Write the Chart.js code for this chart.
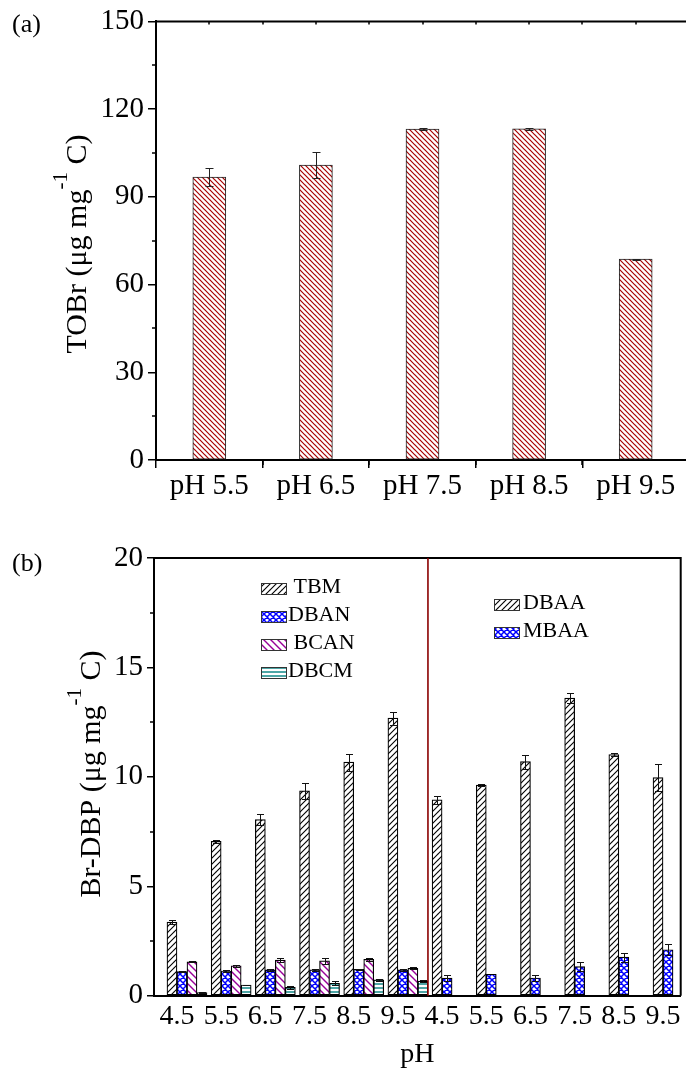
<!DOCTYPE html>
<html><head><meta charset="utf-8">
<script src="https://cdn.jsdelivr.net/npm/chart.js@4.4.1/dist/chart.umd.min.js"></script>
<style>
html,body{margin:0;padding:0;background:#fff;overflow:hidden;width:686px;height:1074px}
#wrap{position:relative;width:686px;height:1074px;overflow:hidden;background:#fff}
#ca{position:absolute;left:0;top:0}
#cb{position:absolute;left:0;top:530px}
</style></head><body>
<div id="wrap"><canvas id="ca" width="700" height="530"></canvas><canvas id="cb" width="686" height="544"></canvas></div>
<script>
// ---------- Panel (a) data ----------
const phLabelsA = ['pH 5.5', 'pH 6.5', 'pH 7.5', 'pH 8.5', 'pH 9.5'];
const tobr = [96.8, 100.9, 113.2, 113.3, 68.7];
const tobrErr = [3.1, 4.3, 0.3, 0.3, 0.2];
const yTicksA = [0, 30, 60, 90, 120, 150];

// ---------- Panel (b) data ----------
const phLabelsB = ['4.5', '5.5', '6.5', '7.5', '8.5', '9.5'];
const tbm = [3.36, 7.05, 8.05, 9.36, 10.67, 12.68];
const tbmErr = [0.10, 0.05, 0.25, 0.38, 0.38, 0.30];
const dban = [1.10, 1.13, 1.18, 1.18, 1.21, 1.18];
const dbanErr = [0.03, 0.03, 0.03, 0.03, 0.03, 0.03];
const bcan = [1.55, 1.37, 1.63, 1.59, 1.66, 1.25];
const bcanErr = [0.03, 0.05, 0.08, 0.12, 0.06, 0.04];
const dbcm = [0.14, 0.49, 0.38, 0.57, 0.72, 0.67];
const dbcmErr = [0.02, 0.02, 0.06, 0.10, 0.03, 0.03];
const dbaa = [8.95, 9.62, 10.70, 13.60, 11.02, 9.97];
const dbaaErr = [0.17, 0.04, 0.32, 0.23, 0.08, 0.60];
const mbaa = [0.80, 0.98, 0.81, 1.33, 1.76, 2.10];
const mbaaErr = [0.13, 0.00, 0.12, 0.20, 0.20, 0.25];
const yTicksB = [0, 5, 10, 15, 20];
const legendLeft = [' TBM', 'DBAN', ' BCAN', 'DBCM'];
const legendRight = ['DBAA', 'MBAA'];

const FONT = '"Liberation Serif", "Times New Roman", serif';

// ---------- hatch patterns ----------
function hatch(color, s, dir, lw) {
  const c = document.createElement('canvas'); c.width = s; c.height = s;
  const x = c.getContext('2d');
  x.fillStyle = '#fff'; x.fillRect(0, 0, s, s);
  x.strokeStyle = color; x.lineWidth = lw; x.lineCap = 'square';
  x.beginPath();
  if (dir === '/' || dir === 'x') { for (const o of [-s, 0, s]) { x.moveTo(o, s); x.lineTo(o + s, 0); } }
  if (dir === '\\' || dir === 'x') { for (const o of [-s, 0, s]) { x.moveTo(o, 0); x.lineTo(o + s, s); } }
  if (dir === '-') { x.moveTo(-1, s / 2); x.lineTo(s + 1, s / 2); }
  x.stroke();
  return x.createPattern(c, 'repeat');
}
const patRed = hatch('#a80000', 5, '\\', 1.2);
const patBlack = hatch('#000', 6, '/', 1.1);
const patBlue = hatch('#0000ff', 6, 'x', 1.5);
const patPurple = hatch('#990099', 7, '\\', 1.4);
const patTeal = hatch('#008080', 4, '-', 1.4);

function drawYTitle(ctx, cx, cy, parts, size) {
  ctx.save();
  ctx.translate(cx, cy); ctx.rotate(-Math.PI / 2);
  ctx.fillStyle = '#000'; ctx.textBaseline = 'alphabetic'; ctx.textAlign = 'left';
  const main = size + 'px ' + FONT, sup = Math.round(size * 0.69) + 'px ' + FONT;
  let total = 0;
  for (const p of parts) { ctx.font = p.sup ? sup : main; total += ctx.measureText(p.t).width; }
  let x = -total / 2; const base = size * 0.33;
  for (const p of parts) {
    ctx.font = p.sup ? sup : main;
    ctx.fillText(p.t, x, p.sup ? base - size * 0.62 : base);
    x += ctx.measureText(p.t).width;
  }
  ctx.restore();
}

const errPlugin = {
  id: 'err',
  afterDatasetsDraw(chart, args, opts) {
    const { ctx } = chart; const y = chart.scales.y; const cap = opts.cap || 4;
    ctx.save(); ctx.strokeStyle = opts.color || '#000'; ctx.lineWidth = 1;
    chart.data.datasets.forEach((ds, di) => {
      if (!ds.errors) return;
      const meta = chart.getDatasetMeta(di);
      meta.data.forEach((el, i) => {
        const raw = ds.data[i]; const v = (raw && typeof raw === 'object') ? raw.y : raw; const e = ds.errors[i];
        if (!e) return;
        const x = Math.round(el.x) + 0.5, t = Math.round(y.getPixelForValue(v + e)) + 0.5, b = Math.round(y.getPixelForValue(v - e)) + 0.5;
        ctx.beginPath(); ctx.moveTo(x, t); ctx.lineTo(x, b);
        ctx.moveTo(x - cap, t); ctx.lineTo(x + cap, t); ctx.moveTo(x - cap, b); ctx.lineTo(x + cap, b); ctx.stroke();
      });
    });
    ctx.restore();
  }
};

function midpoints(arr) { return arr.slice(1).map((v, i) => (v + arr[i]) / 2); }

// ---------- Panel (a) ----------
const idxA = phLabelsA.map((_, i) => i + 1);
const decoA = {
  id: 'decoA',
  afterDraw(chart) {
    const { ctx, chartArea: a, scales: { x, y } } = chart;
    ctx.save();
    ctx.strokeStyle = '#000'; ctx.lineWidth = 2;
    ctx.beginPath(); ctx.moveTo(a.left, a.top); ctx.lineTo(a.right, a.top); ctx.lineTo(a.right, a.bottom); ctx.stroke();
    ctx.lineWidth = 1.5; ctx.beginPath();
    for (const v of midpoints(yTicksA)) { const p = Math.round(y.getPixelForValue(v)); ctx.moveTo(a.left - 4, p); ctx.lineTo(a.left, p); }
    const xm = midpoints(idxA).concat([idxA[idxA.length - 1] + 0.5]);
    for (const v of xm) { const p = Math.round(x.getPixelForValue(v)); ctx.moveTo(p, a.bottom); ctx.lineTo(p, a.bottom + 5); ctx.moveTo(p, a.top); ctx.lineTo(p, a.top + 3); }
    for (const v of idxA) { const p = Math.round(x.getPixelForValue(v)); ctx.moveTo(p, a.top); ctx.lineTo(p, a.top + 3); }
    ctx.stroke();
    ctx.fillStyle = '#000'; ctx.font = '26px ' + FONT; ctx.textBaseline = 'alphabetic'; ctx.textAlign = 'left';
    ctx.fillText('(a)', 12, 32);
    drawYTitle(ctx, 76, 244, [{ t: 'TOBr (μg mg' }, { t: '-1', sup: true }, { t: ' C)' }], 30);
    ctx.restore();
  }
};

new Chart(document.getElementById('ca'), {
  type: 'bar',
  data: {
    datasets: [{
      label: 'TOBr',
      data: tobr.map((v, i) => ({ x: idxA[i], y: v })),
      errors: tobrErr,
      backgroundColor: patRed, borderColor: '#222', borderWidth: 1, borderSkipped: false,
      barThickness: 33
    }]
  },
  options: {
    responsive: false, animation: false, devicePixelRatio: 1,
    layout: { padding: { left: 0, top: 19, right: 11, bottom: 0 } },
    plugins: { legend: { display: false }, tooltip: { enabled: false }, err: { cap: 4, color: '#222' } },
    scales: {
      x: {
        type: 'linear', min: 0.5, max: 5.5, offset: false,
        afterBuildTicks: ax => { ax.ticks = idxA.map(v => ({ value: v })); },
        afterFit: ax => { ax.height = 70; },
        ticks: { autoSkip: false, maxRotation: 0, padding: 1, color: '#000', font: { family: FONT, size: 29 }, callback: v => phLabelsA[v - 1] },
        grid: { display: true, drawOnChartArea: false, drawTicks: true, tickLength: 8, color: '#000', lineWidth: 1.5 },
        border: { display: true, color: '#000', width: 2 }
      },
      y: {
        min: yTicksA[0], max: yTicksA[yTicksA.length - 1],
        afterBuildTicks: ax => { ax.ticks = yTicksA.map(v => ({ value: v })); },
        afterFit: ax => { ax.width = 156; },
        ticks: { padding: 4, color: '#000', font: { family: FONT, size: 29 } },
        grid: { display: true, drawOnChartArea: false, drawTicks: true, tickLength: 8, color: '#000', lineWidth: 1.5 },
        border: { display: true, color: '#000', width: 2 }
      }
    }
  },
  plugins: [errPlugin, decoA]
});

// ---------- Panel (b) ----------
const labelsB = phLabelsB.concat(phLabelsB);
const nL = phLabelsB.length;
const idxB = labelsB.map((_, i) => i);
const dividerAt = 5.68;
const ptsLeft = arr => arr.map((v, i) => ({ x: i, y: v }));
const ptsRight = arr => arr.map((v, i) => ({ x: nL + i, y: v }));

const decoB = {
  id: 'decoB',
  afterDraw(chart) {
    const { ctx, chartArea: a, scales: { x, y } } = chart;
    ctx.save();
    ctx.strokeStyle = '#000'; ctx.lineWidth = 2;
    ctx.beginPath(); ctx.moveTo(a.left, a.top); ctx.lineTo(a.right, a.top); ctx.lineTo(a.right, a.bottom); ctx.stroke();
    ctx.lineWidth = 1.5; ctx.beginPath();
    for (const v of midpoints(yTicksB)) { const p = Math.round(y.getPixelForValue(v)); ctx.moveTo(a.left - 4, p); ctx.lineTo(a.left, p); }
    ctx.stroke();
    // divider
    const dx = x.getPixelForValue(dividerAt);
    ctx.strokeStyle = '#8b0000'; ctx.lineWidth = 1.6;
    ctx.beginPath(); ctx.moveTo(dx, a.top); ctx.lineTo(dx, a.bottom); ctx.stroke();
    // legends
    ctx.font = '22px ' + FONT; ctx.fillStyle = '#000'; ctx.textAlign = 'left'; ctx.textBaseline = 'alphabetic';
    const pats = [patBlack, patBlue, patPurple, patTeal];
    legendLeft.forEach((t, i) => {
      const sx = 261, sy = 53 + i * 28;
      ctx.fillStyle = pats[i]; ctx.fillRect(sx, sy, 25, 11);
      ctx.strokeStyle = '#333'; ctx.lineWidth = 1; ctx.strokeRect(sx + 0.5, sy + 0.5, 25, 11);
      ctx.fillStyle = '#000'; ctx.fillText(t, sx + 27, sy + 10);
    });
    legendRight.forEach((t, i) => {
      const sx = 494, sy = 69 + i * 28;
      ctx.fillStyle = pats[i]; ctx.fillRect(sx, sy, 25, 11);
      ctx.strokeStyle = '#333'; ctx.lineWidth = 1; ctx.strokeRect(sx + 0.5, sy + 0.5, 25, 11);
      ctx.fillStyle = '#000'; ctx.fillText(t, sx + 29, sy + 10);
    });
    ctx.font = '26px ' + FONT; ctx.fillText('(b)', 12, 41);
    ctx.font = '28px ' + FONT; ctx.textAlign = 'center';
    ctx.fillText('pH', (a.left + a.right) / 2, 532);
    drawYTitle(ctx, 90, 244, [{ t: 'Br-DBP (μg mg' }, { t: '-1', sup: true }, { t: ' C)' }], 30);
    ctx.restore();
  }
};

const barStyle = { borderColor: '#000', borderWidth: 1.2, borderSkipped: false, barThickness: 10 };
new Chart(document.getElementById('cb'), {
  type: 'bar',
  data: {
    datasets: [
      Object.assign({ label: '', data: [] }, barStyle),
      Object.assign({ label: '', data: [] }, barStyle),
      Object.assign({ label: 'TBM / DBAA', data: ptsLeft(tbm).concat(ptsRight(dbaa)), errors: tbmErr.concat(dbaaErr), backgroundColor: patBlack }, barStyle),
      Object.assign({ label: 'DBAN / MBAA', data: ptsLeft(dban).concat(ptsRight(mbaa)), errors: dbanErr.concat(mbaaErr), backgroundColor: patBlue }, barStyle),
      Object.assign({ label: 'BCAN', data: ptsLeft(bcan), errors: bcanErr, backgroundColor: patPurple }, barStyle),
      Object.assign({ label: 'DBCM', data: ptsLeft(dbcm), errors: dbcmErr, backgroundColor: patTeal }, barStyle)
    ]
  },
  options: {
    responsive: false, animation: false, devicePixelRatio: 1,
    layout: { padding: { left: 0, top: 28, right: 5.3, bottom: 0 } },
    plugins: { legend: { display: false }, tooltip: { enabled: false }, err: { cap: 3.5, color: '#111' } },
    scales: {
      x: {
        type: 'linear', min: -0.52, max: 11.4, offset: false,
        afterBuildTicks: ax => { ax.ticks = idxB.map(v => ({ value: v })); },
        afterFit: ax => { ax.height = 78.3; },
        ticks: { autoSkip: false, maxRotation: 0, padding: 4, color: '#000', font: { family: FONT, size: 28 }, callback: v => labelsB[v] },
        grid: { display: false, drawTicks: false },
        border: { display: true, color: '#000', width: 2 }
      },
      y: {
        min: yTicksB[0], max: yTicksB[yTicksB.length - 1],
        afterBuildTicks: ax => { ax.ticks = yTicksB.map(v => ({ value: v })); },
        afterFit: ax => { ax.width = 154; },
        ticks: { padding: 4, color: '#000', font: { family: FONT, size: 29 } },
        grid: { display: true, drawOnChartArea: false, drawTicks: true, tickLength: 7, color: '#000', lineWidth: 1.5 },
        border: { display: true, color: '#000', width: 2 }
      }
    }
  },
  plugins: [errPlugin, decoB]
});
</script>
</body></html>
